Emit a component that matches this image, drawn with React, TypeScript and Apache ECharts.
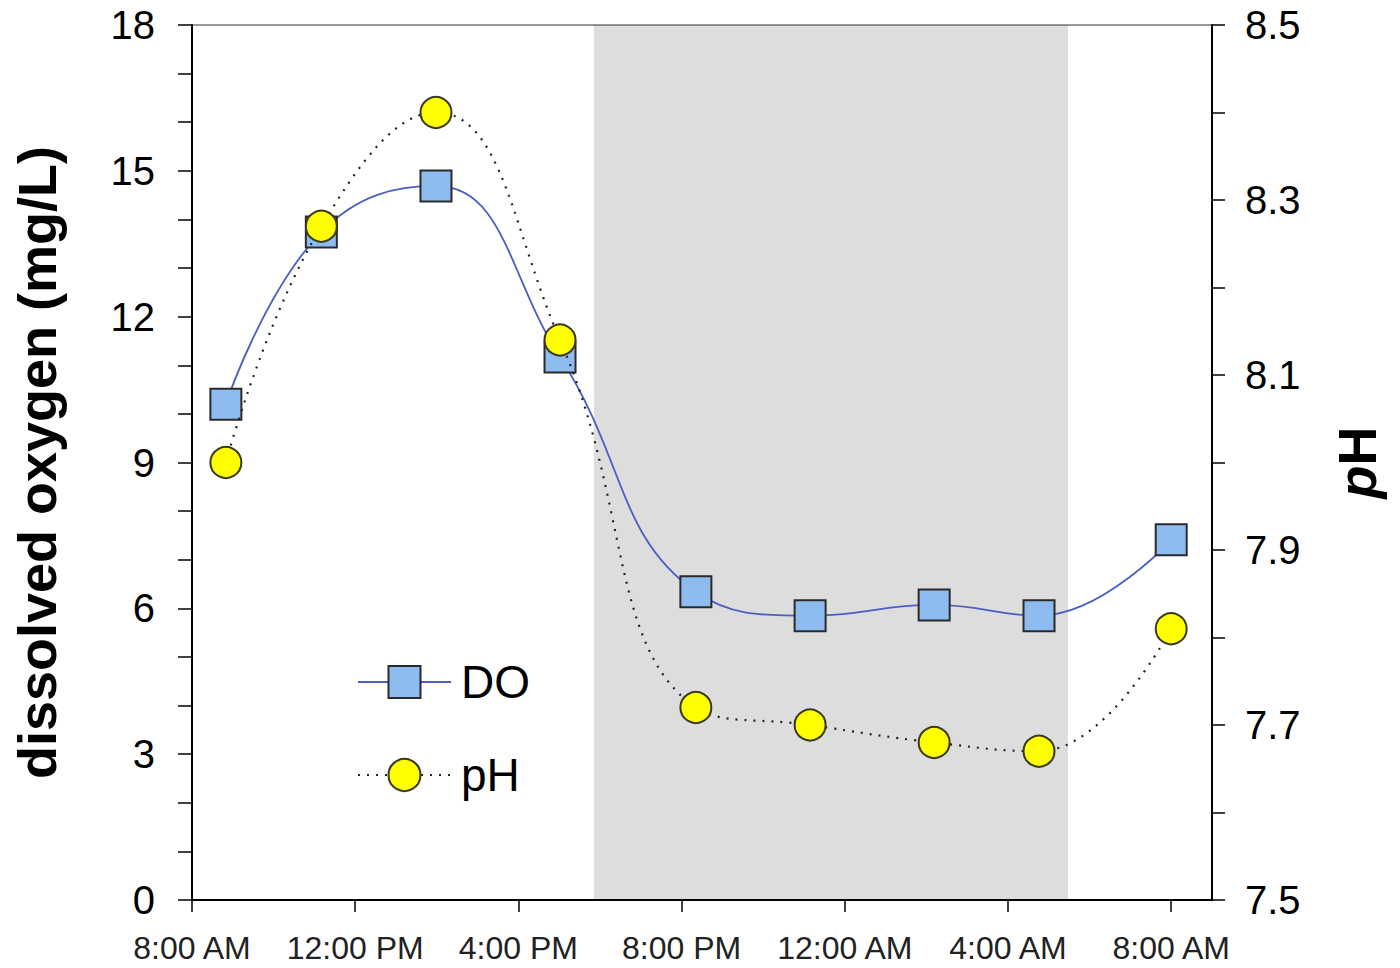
import React, { useEffect, useRef } from "react";
import * as echarts from "echarts";

// hours after 8:00 AM
const hours = [0.83, 3.17, 5.98, 9.02, 12.35, 15.15, 18.19, 20.76, 24.0];
const doValues = [10.2, 13.74, 14.69, 11.17, 6.34, 5.85, 6.07, 5.85, 7.41];
const phValues = [8.0, 8.27, 8.4, 8.14, 7.72, 7.7, 7.68, 7.67, 7.81];
const xTickLabels = ["8:00 AM", "12:00 PM", "4:00 PM", "8:00 PM", "12:00 AM", "4:00 AM", "8:00 AM"];
const xTickHours = [0, 4, 8, 12, 16, 20, 24];
const nightStart = 9.85;
const nightEnd = 21.47;

const FONT = "'Liberation Sans', Arial, Helvetica, sans-serif";

export default function App() {
  const ref = useRef<HTMLDivElement>(null);

  useEffect(() => {
    if (!ref.current) return;
    const chart = echarts.init(ref.current, undefined, { renderer: "svg" });
    const doData = hours.map((h, i) => [h, doValues[i]]);
    const phData = hours.map((h, i) => [h, phValues[i]]);

    chart.setOption({
      animation: false,
      backgroundColor: "#ffffff",
      textStyle: { fontFamily: FONT },
      grid: {
        left: 192,
        right: 188,
        top: 25,
        bottom: 68,
        outerBoundsMode: "none",
        containLabel: false,
        show: true,
        borderColor: "#7a7a7a",
        borderWidth: 1.5,
        backgroundColor: "transparent",
      },
      legend: {
        data: ["DO", "pH"],
        orient: "vertical",
        left: 357,
        top: 659,
        padding: 0,
        itemWidth: 93,
        itemHeight: 40,
        itemGap: 47,
        textStyle: {
          fontFamily: FONT,
          fontSize: 46,
          lineHeight: 40,
          color: "#000",
          padding: [0, 0, 0, 5],
        },
        selectedMode: false,
      },
      xAxis: {
        type: "value",
        min: 0,
        max: 25,
        interval: 4,
        axisLine: { show: true, lineStyle: { color: "#000", width: 2 } },
        axisTick: {
          show: true,
          length: 12,
          customValues: xTickHours,
          lineStyle: { color: "#000", width: 1.5 },
        },
        axisLabel: {
          customValues: xTickHours,
          formatter: (v: number) => {
            const idx = xTickHours.indexOf(Math.round(v));
            return idx >= 0 ? xTickLabels[idx] : "";
          },
          fontFamily: FONT,
          fontSize: 32,
          color: "#222",
          margin: 32,
        },
        splitLine: { show: false },
      },
      yAxis: [
        {
          type: "value",
          min: 0,
          max: 18,
          interval: 1,
          position: "left",
          name: "dissolved oxygen (mg/L)",
          nameLocation: "middle",
          nameGap: 128,
          nameRotate: 90,
          nameTextStyle: { fontFamily: FONT, fontSize: 54, fontWeight: "bold", color: "#000" },
          axisLine: { show: true, lineStyle: { color: "#000", width: 2 } },
          axisTick: { show: true, length: 14, lineStyle: { color: "#000", width: 1.5 } },
          axisLabel: {
            formatter: (v: number) => (Math.round(v) % 3 === 0 ? String(Math.round(v)) : ""),
            fontFamily: FONT,
            fontSize: 40,
            color: "#000",
            margin: 37,
          },
          splitLine: { show: false },
        },
        {
          type: "value",
          min: 7.5,
          max: 8.5,
          interval: 0.1,
          position: "right",
          name: "{i|p}{b|H}",
          nameLocation: "middle",
          nameGap: 118,
          nameRotate: 90,
          nameTextStyle: {
            rich: {
              i: { fontFamily: FONT, fontSize: 54, fontWeight: "bold", fontStyle: "italic", color: "#000" },
              b: { fontFamily: FONT, fontSize: 54, fontWeight: "bold", color: "#000" },
            },
          },
          axisLine: { show: true, lineStyle: { color: "#000", width: 2 } },
          axisTick: { show: true, length: 13, lineStyle: { color: "#000", width: 1.5 } },
          axisLabel: {
            formatter: (v: number) => {
              const k = Math.round((v - 7.5) * 10);
              return k % 2 === 0 ? v.toFixed(1) : "";
            },
            fontFamily: FONT,
            fontSize: 40,
            color: "#000",
            margin: 33,
          },
          splitLine: { show: false },
        },
      ],
      series: [
        {
          name: "DO",
          type: "line",
          yAxisIndex: 0,
          data: doData,
          smooth: 0.45,
          smoothMonotone: null,
          symbol: "rect",
          symbolSize: 31,
          lineStyle: { color: "#4a5ec4", width: 1.8 },
          itemStyle: { color: "#8fbcf0", borderColor: "#2a2a2a", borderWidth: 2 },
          z: 2,
        },
        {
          name: "pH",
          type: "line",
          yAxisIndex: 1,
          data: phData,
          smooth: 0.45,
          smoothMonotone: null,
          symbol: "circle",
          symbolSize: 31,
          lineStyle: { color: "#222", width: 2.2, type: [2, 7] },
          itemStyle: { color: "#ffff00", borderColor: "#3a3a1a", borderWidth: 2 },
          z: 3,
        },
        {
          name: "night",
          type: "line",
          data: [],
          silent: true,
          z: 5,
          markArea: {
            silent: true,
            itemStyle: { color: "rgba(0,0,0,0.135)", borderWidth: 0 },
            data: [[{ xAxis: nightStart }, { xAxis: nightEnd }]],
          },
        },
      ],
    });

    return () => chart.dispose();
  }, []);

  return (
    <div
      ref={ref}
      style={{ position: "fixed", left: 0, top: 0, width: 1400, height: 968 }}
    />
  );
}
